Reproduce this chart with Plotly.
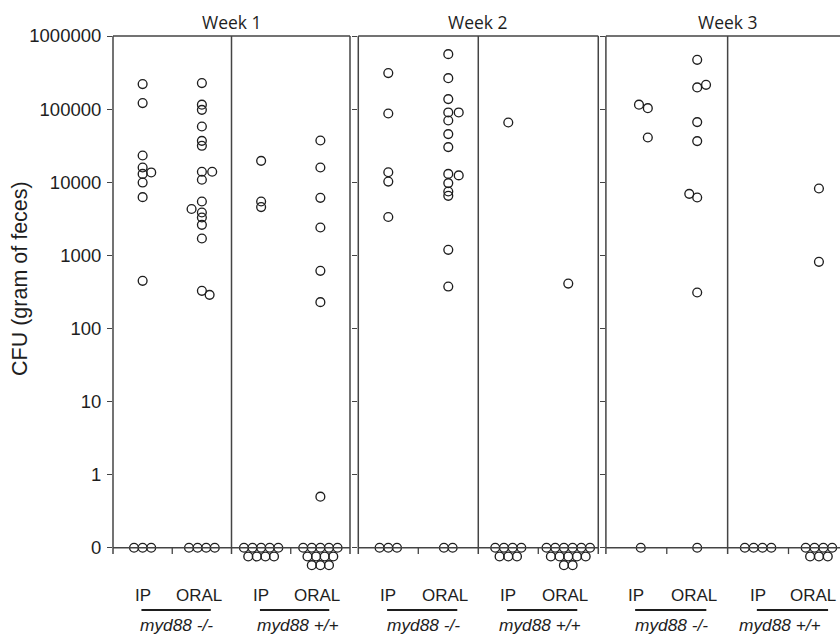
import plotly.graph_objects as go

# ---- data: CFU per gram of feces (0 = no colonies recovered) ----
weeks = ["Week 1", "Week 2", "Week 3"]
routes = ["IP", "ORAL", "IP", "ORAL"]
genotypes = ["myd88 -/-", "myd88 +/+"]
tick_values = [0.1, 1, 10, 100, 1000, 10000, 100000, 1000000]
tick_labels = ["0", "1", "10", "100", "1000", "10000", "100000", "1000000"]

wk1_ip_ko = [220000, 121000, 23200, 15900, 13600, 13000, 9900, 6250, 448, 0, 0, 0]
wk1_oral_ko = [227000, 115000, 97700, 57800, 36800, 31500, 13900, 13900, 10800,
               5450, 4300, 3850, 3290, 2610, 1700, 327, 288, 0, 0, 0, 0]
wk1_ip_wt = [19600, 5450, 4570, 0, 0, 0, 0, 0, 0, 0, 0, 0]
wk1_oral_wt = [37200, 15900, 6120, 2400, 614, 229, 0.5,
               0, 0, 0, 0, 0, 0, 0, 0, 0, 0, 0, 0]

wk2_ip_ko = [311000, 87000, 13700, 10200, 3340, 0, 0, 0]
wk2_oral_ko = [565000, 265000, 137000, 90000, 90000, 69800, 45500, 30200, 13000,
               12400, 9720, 7470, 6520, 1190, 374, 0, 0]
wk2_ip_wt = [65600, 0, 0, 0, 0, 0, 0, 0]
wk2_oral_wt = [411, 0, 0, 0, 0, 0, 0, 0, 0, 0, 0, 0, 0, 0]

wk3_ip_ko = [115000, 103000, 40900, 0]
wk3_oral_ko = [472000, 215000, 198000, 66400, 36500, 6930, 6180, 310, 0]
wk3_ip_wt = [0, 0, 0, 0]
wk3_oral_wt = [8200, 815, 0, 0, 0, 0, 0, 0, 0]

cfu = {
    "Week 1": [wk1_ip_ko, wk1_oral_ko, wk1_ip_wt, wk1_oral_wt],
    "Week 2": [wk2_ip_ko, wk2_oral_ko, wk2_ip_wt, wk2_oral_wt],
    "Week 3": [wk3_ip_ko, wk3_oral_ko, wk3_ip_wt, wk3_oral_wt],
}

# ---- scatter layout: sideways nudges for overlapping dots (index -> steps) ----
nudges = {
    ("Week 1", 0): {4: 1.0},
    ("Week 1", 1): {7: 1.2, 10: -1.2, 16: 0.9},
    ("Week 2", 1): {4: 1.2, 9: 1.2},
    ("Week 3", 0): {0: 0.3, 1: 1.3, 2: 1.3, 3: 0.5},
    ("Week 3", 1): {1: 1.0, 5: -0.9},
}
# zero values are piled up in rows below the baseline
zero_rows = {
    ("Week 1", 2): [5, 4],
    ("Week 1", 3): [5, 4, 3],
    ("Week 2", 2): [4, 3],
    ("Week 2", 3): [6, 5, 2],
    ("Week 3", 3): [4, 3],
}
# left edge of each genotype label, category units
geno_left = {
    "Week 1": [-0.08, 1.9],
    "Week 2": [-0.06, 1.81],
    "Week 3": [-0.06, 1.66],
}
STEP = 0.145          # horizontal dot spacing, category units
ROW = 0.119           # vertical spacing of zero rows, decades
LOG_LO, LOG_HI = -1.4, 6.0
BASE = 0.1            # the value shown as "0"

W, H = 840, 636
ML, MR, MT, MB = 113, 0, 36, 59
PW, PH = W - ML - MR, H - MT - MB

domains = [[0.0, 0.326], [0.3374, 0.6675], [0.678, 1.0]]
xranges = [[-0.5, 3.5], [-0.5, 3.5], [-0.5, 3.346]]

LINE = "#444444"
INK = "#1e1e1e"


def yfrac(logv):
    return (logv - LOG_LO) / (LOG_HI - LOG_LO)


def paper_y(px):
    return (MT + PH - px) / PH


fig = go.Figure()

for w, week in enumerate(weeks):
    xa = "x" if w == 0 else f"x{w + 1}"
    ya = "y" if w == 0 else f"y{w + 1}"
    for g, vals in enumerate(cfu[week]):
        xs, ys = [], []
        shift = nudges.get((week, g), {})
        zeros = [i for i, v in enumerate(vals) if v == 0]
        rows = zero_rows.get((week, g), [len(zeros)])
        for i, v in enumerate(vals):
            if v > 0:
                xs.append(g + shift.get(i, 0) * STEP)
                ys.append(v)
        k = 0
        for r, n in enumerate(rows):
            for j in range(n):
                if k >= len(zeros):
                    break
                dx = shift.get(zeros[k], 0) if len(rows) == 1 and n == 1 else 0
                xs.append(g + (j - (n - 1) / 2 + dx) * STEP)
                ys.append(BASE * 10 ** (-r * ROW))
                k += 1
        fig.add_trace(go.Scatter(
            x=xs, y=ys, mode="markers", xaxis=xa, yaxis=ya, showlegend=False,
            cliponaxis=False,
            marker=dict(symbol="circle-open", size=8.8, color=INK,
                        line=dict(width=1.35, color=INK)),
        ))

    # frame of the panel
    dref = f"{xa} domain"
    yref = f"{ya} domain"
    ybot = yfrac(-1.086)
    yzero = yfrac(-1)
    line = dict(color=LINE, width=1.5)
    fig.add_shape(type="line", xref=dref, yref=yref, x0=0, x1=1, y0=1, y1=1, line=line)
    fig.add_shape(type="line", xref=dref, yref=yref, x0=0, x1=0, y0=ybot, y1=1, line=line)
    if w < 2:
        fig.add_shape(type="line", xref=dref, yref=yref, x0=1, x1=1, y0=ybot, y1=1, line=line)
    fig.add_shape(type="line", xref=xa, yref=yref, x0=1.5, x1=1.5, y0=ybot, y1=1, line=line)
    fig.add_shape(type="line", xref=dref, yref=yref, x0=0, x1=1, y0=yzero, y1=yzero, line=line)
    for tx in (0.5, 2.5):
        fig.add_shape(type="line", xref=xa, yref=yref, x0=tx, x1=tx, y0=ybot, y1=yzero,
                      line=dict(color=LINE, width=1.3))

    # week heading
    fig.add_annotation(text=week, xref=xa, yref="paper", x=1.5, y=paper_y(22),
                       showarrow=False, yanchor="middle",
                       font=dict(family="Open Sans", size=17.5, color=INK))
    # route labels, underlines, genotype labels
    for g, route in enumerate(routes):
        lx = g - 0.05 if route == "ORAL" else g
        if w == 2 and g == 3:
            lx = g - 0.1
        fig.add_annotation(text=route, xref=xa, yref="paper", x=lx, y=paper_y(595),
                           showarrow=False, yanchor="middle",
                           font=dict(family="Liberation Sans", size=17, color=INK))
    for p, geno in enumerate(genotypes):
        c = 2 * p
        fig.add_shape(type="line", xref=xa, yref="paper", x0=c - 0.02, x1=c + 1.15,
                      y0=paper_y(610), y1=paper_y(610), line=dict(color=INK, width=2))
        fig.add_annotation(text=f"<i>{geno}</i>", xref=xa, yref="paper",
                           x=geno_left[week][p], xanchor="left",
                           y=paper_y(625), showarrow=False, yanchor="middle",
                           font=dict(family="Liberation Sans", size=17.3, color=INK))

# y-axis title
fig.add_annotation(text="CFU (gram of feces)", xref="paper", yref="paper",
                   x=(20 - ML) / PW, y=paper_y(279), textangle=-90, showarrow=False,
                   xanchor="center", yanchor="middle",
                   font=dict(family="Liberation Sans", size=21.5, color=INK))

layout = dict(
    width=W, height=H, margin=dict(l=ML, r=MR, t=MT, b=MB),
    plot_bgcolor="white", paper_bgcolor="white", showlegend=False,
)
for w in range(3):
    sfx = "" if w == 0 else str(w + 1)
    layout[f"xaxis{sfx}"] = dict(
        domain=domains[w], range=xranges[w], showgrid=False, zeroline=False,
        showline=False, showticklabels=False, ticks="", fixedrange=True,
        anchor=f"y{sfx}",
    )
    layout[f"yaxis{sfx}"] = dict(
        type="log", range=[LOG_LO, LOG_HI], anchor=f"x{sfx}",
        tickvals=tick_values, ticktext=tick_labels, showticklabels=(w == 0),
        ticks="outside", ticklen=5, tickwidth=1.3, tickcolor=LINE,
        ticklabelstandoff=2,
        showgrid=False, zeroline=False, showline=False,
        tickfont=dict(family="Liberation Sans", size=18.5, color=INK),
    )
fig.update_layout(**layout)

fig.write_html("out.html")
